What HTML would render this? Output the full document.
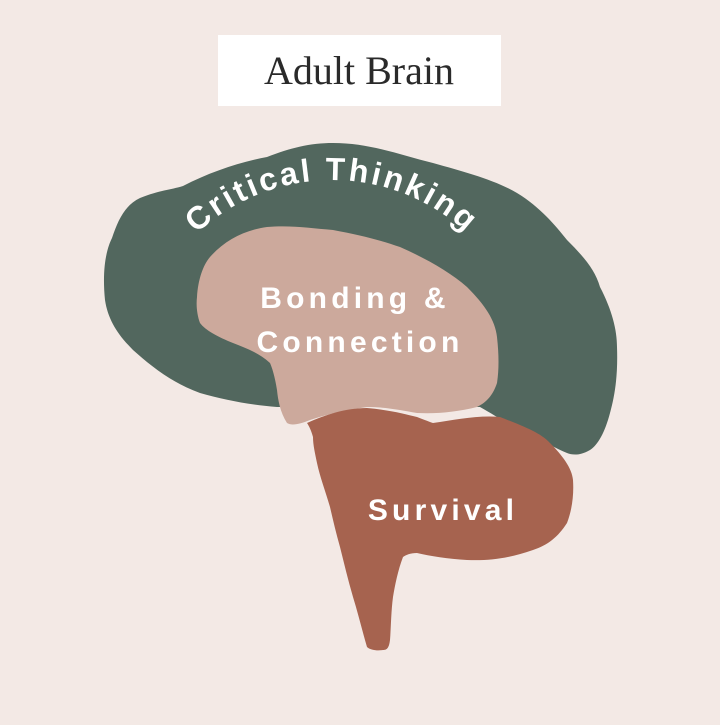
<!DOCTYPE html>
<html><head><style>
html,body{margin:0;padding:0;background:#f3e9e5;}
</style></head><body>
<svg width="720" height="720" viewBox="0 0 720 720" xmlns="http://www.w3.org/2000/svg">
<rect width="720" height="720" fill="#f3e9e5"/>
<rect x="218" y="35" width="283" height="71" fill="#ffffff"/>
<text x="359" y="84" text-anchor="middle" font-family="Liberation Serif, serif" font-size="40" fill="#2a2a2a">Adult Brain</text>
<path fill="#52675e" d="M105,300 C102,270 106,250 112,238 C118,220 125,205 140,198 C160,190 170,190 183,186 C210,172 240,162 267,157 C290,148 310,143 333,143 C370,143 400,155 433,163 C465,172 495,180 517,193 C540,207 555,225 567,240 C585,258 595,270 600,287 C612,310 617,330 617,347 C618,375 615,395 610,413 C605,432 598,445 590,450 C580,456 572,455 567,453 C555,448 545,442 533,437 C515,430 500,418 480,407 L277,407 C250,405 225,400 200,393 C170,382 150,365 133,350 C118,335 108,320 105,300 Z"/>
<path fill="#cca99c" d="M197,297 C198,280 203,265 210,257 C225,240 245,230 267,227 C290,225 310,228 333,230 C360,235 380,240 400,247 C425,258 450,272 467,287 C485,305 495,320 497,337 C499,355 499,370 497,383 C493,395 487,402 477,407 C457,412 437,414 417,413 C400,410 385,407 367,407 C345,410 325,415 310,420 C300,424 292,426 287,423 C280,412 278,400 277,390 C275,378 273,370 270,363 C258,352 245,348 233,343 C218,337 205,330 200,323 C197,315 196,305 197,297 Z"/>
<path fill="#a6634f" d="M307,423 C325,415 345,408 367,408 C390,410 405,414 417,417 C425,420 430,422 433,423 C455,420 478,415 500,417 C520,425 540,432 550,443 C562,455 572,468 573,480 C574,495 572,510 567,523 C558,537 548,545 533,550 C510,558 490,561 467,560 C448,559 430,556 417,553 C410,553 406,555 403,557 C398,570 395,585 393,597 C391,612 391,628 390,640 C389,648 387,650 383,650 C377,651 370,650 367,647 C362,630 358,613 353,597 C348,580 344,563 340,547 C336,533 333,520 330,507 C325,490 320,477 317,463 C315,453 313,445 313,437 C311,430 309,426 307,423 Z"/>
<defs><path id="arc" d="M145,313 A198,198 0 0 1 519,313"/></defs>
<text font-family="Liberation Sans, sans-serif" font-weight="bold" font-size="32" fill="#ffffff" letter-spacing="2.8"><textPath href="#arc" startOffset="50%" text-anchor="middle">Critical Thinking</textPath></text>
<g font-family="Liberation Sans, sans-serif" font-weight="bold" font-size="30" fill="#ffffff" text-anchor="middle" letter-spacing="4.2">
<text x="355" y="308">Bonding &amp;</text>
<text x="360" y="352">Connection</text>
<text x="443" y="520">Survival</text>
</g>
</svg>
</body></html>
